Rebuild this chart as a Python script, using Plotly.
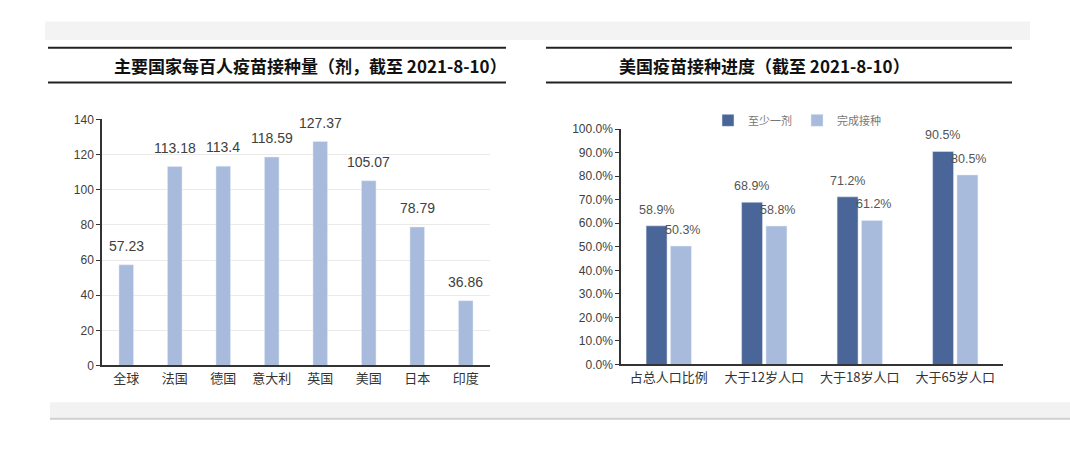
import plotly.graph_objects as go

countries = ["全球", "法国", "德国", "意大利", "英国", "美国", "日本", "印度"]
doses_per100 = [57.23, 113.18, 113.4, 118.59, 127.37, 105.07, 78.79, 36.86]
doses_labels = ["57.23", "113.18", "113.4", "118.59", "127.37", "105.07", "78.79", "36.86"]

groups = ["占总人口比例", "大于12岁人口", "大于18岁人口", "大于65岁人口"]
at_least_one = [58.9, 68.9, 71.2, 90.5]
fully_vacc = [50.3, 58.8, 61.2, 80.5]

left_ticks = [0, 20, 40, 60, 80, 100, 120, 140]
right_ticks = [0, 10, 20, 30, 40, 50, 60, 70, 80, 90, 100]

W, H = 1070, 449
def fx(px): return px / W
def fy(py): return 1 - py / H

LIGHT = "#A8BBDC"
DARK = "#4A6597"
TXT = "#404040"
FONT = "Noto Sans CJK SC"

fig = go.Figure()

fig.add_trace(go.Bar(
    x=countries, y=doses_per100,
    marker=dict(color=LIGHT), width=0.3,
    xaxis="x", yaxis="y", showlegend=False,
))

fig.add_trace(go.Bar(
    x=groups, y=at_least_one, name="至少一剂",
    marker=dict(color=DARK), xaxis="x2", yaxis="y2",
))
fig.add_trace(go.Bar(
    x=groups, y=fully_vacc, name="完成接种",
    marker=dict(color=LIGHT), xaxis="x2", yaxis="y2",
))

axis_common = dict(showline=True, linecolor="#333333", linewidth=1.5)

fig.update_layout(
    width=W, height=H, margin=dict(l=0, r=0, t=0, b=0),
    paper_bgcolor="white", plot_bgcolor="rgba(0,0,0,0)",
    barmode="group", bargap=0.49, bargroupgap=0.14,
    font=dict(family=FONT, color=TXT, size=12),
    xaxis=dict(domain=[fx(102), fx(490)], anchor="y", **axis_common, ticks="",
               tickfont=dict(size=13, family=FONT, color="#333333")),
    yaxis=dict(domain=[fy(370), fy(116)], anchor="x", range=[0, 140], tickvals=left_ticks,
               **axis_common, ticks="outside", ticklen=4, tickcolor="#333333",
               showgrid=True, gridcolor="#EAEAEA", gridwidth=1, zeroline=False,
               tickfont=dict(size=12, family="Liberation Sans", color=TXT)),
    xaxis2=dict(domain=[fx(621), fx(1003)], anchor="y2", **axis_common, ticks="",
                tickfont=dict(size=13, family=FONT, color="#333333")),
    yaxis2=dict(domain=[fy(369), fy(126)], anchor="x2", range=[0, 100], tickvals=right_ticks,
                ticktext=[f"{v:.1f}%" for v in right_ticks],
                **axis_common, ticks="outside", ticklen=4, tickcolor="#333333",
                showgrid=False, zeroline=False,
                tickfont=dict(size=12, family="Liberation Sans", color=TXT)),
    legend=dict(orientation="h", x=fx(708), y=fy(117), xanchor="left", yanchor="middle",
                font=dict(size=11, family=FONT, color="#777777"), bgcolor="rgba(0,0,0,0)",
                itemwidth=30, traceorder="normal"),
)

# value labels placed above bars
for c, v, t in zip(countries, doses_per100, doses_labels):
    fig.add_annotation(x=c, y=v, xref="x", yref="y", text=t, showarrow=False,
                       yanchor="middle", yshift=19,
                       font=dict(size=14, family="Liberation Sans", color=TXT))
bar_off = 12.5
for g, a, b in zip(groups, at_least_one, fully_vacc):
    fig.add_annotation(x=g, y=a, xref="x2", yref="y2", text=f"{a:.1f}%", showarrow=False,
                       yanchor="middle", yshift=16, xshift=-bar_off,
                       font=dict(size=12.5, family="Liberation Sans", color="#555555"))
    fig.add_annotation(x=g, y=b, xref="x2", yref="y2", text=f"{b:.1f}%", showarrow=False,
                       yanchor="middle", yshift=16, xshift=bar_off + 1,
                       font=dict(size=12.5, family="Liberation Sans", color="#555555"))

shapes = []
# page shadow bands
shapes.append(dict(type="rect", xref="paper", yref="paper", x0=fx(45), x1=fx(1030),
                   y0=fy(34), y1=fy(15), fillcolor="#F3F3F3", line=dict(width=0), layer="below"))
shapes.append(dict(type="rect", xref="paper", yref="paper", x0=fx(50), x1=1,
                   y0=fy(424), y1=fy(408), fillcolor="#F2F2F2", line=dict(width=0), layer="below"))
shapes.append(dict(type="line", xref="paper", yref="paper", x0=fx(50), x1=1,
                   y0=fy(425), y1=fy(425), line=dict(color="#CFCFCF", width=2), layer="below"))
# title rules
for x0, x1 in [(48, 506), (546, 1012)]:
    for yy in (42, 78):
        shapes.append(dict(type="line", xref="paper", yref="paper", x0=fx(x0), x1=fx(x1),
                           y0=fy(yy), y1=fy(yy), line=dict(color="#222222", width=2)))
fig.update_layout(shapes=shapes)

fig.add_annotation(text="<b>主要国家每百人疫苗接种量（剂，截至 2021-8-10）</b>", xref="paper", yref="paper",
                   x=fx(310), y=fy(60), showarrow=False, xanchor="center", yanchor="middle",
                   font=dict(size=17, family=FONT, color="#111111"))
fig.add_annotation(text="<b>美国疫苗接种进度（截至 2021-8-10）</b>", xref="paper", yref="paper",
                   x=fx(764), y=fy(60), showarrow=False, xanchor="center", yanchor="middle",
                   font=dict(size=17, family=FONT, color="#111111"))

fig.write_html("out.html")
